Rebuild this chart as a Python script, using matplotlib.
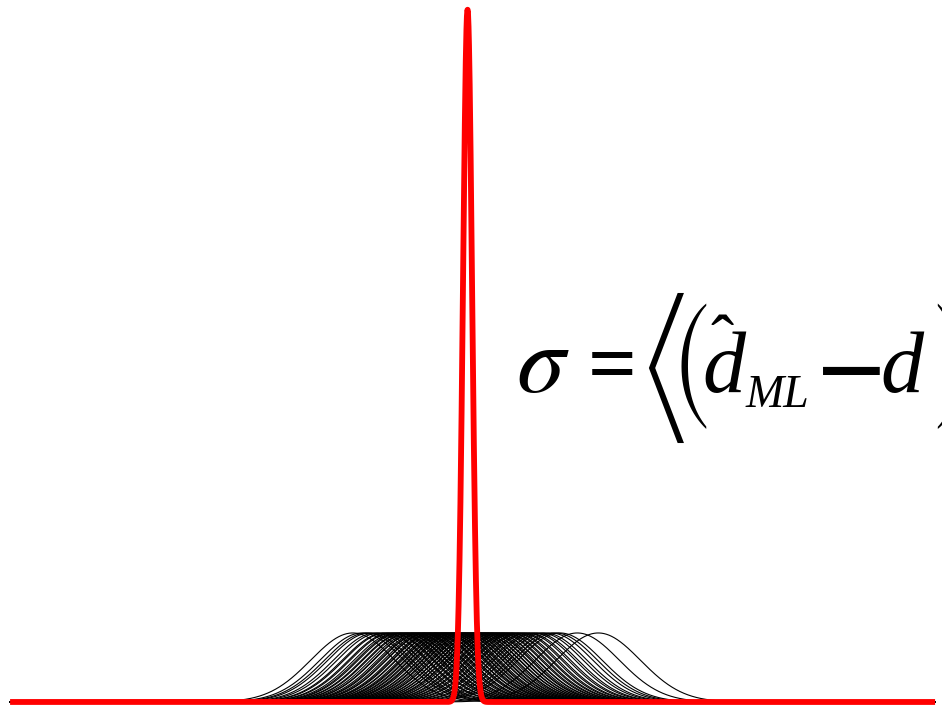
import numpy as np
import matplotlib
matplotlib.use("Agg")
import matplotlib.pyplot as plt

plt.rcParams["mathtext.fontset"] = "stix"

# Centres of the individual ML estimate curves (units of the curve width)
estimate_centres = [
    -2.85, -2.63, -2.52, -2.44, -2.31, -2.22, -2.10, -2.06, -1.95, -1.91,
    -1.82, -1.76, -1.72, -1.64, -1.61, -1.53, -1.50, -1.43, -1.37, -1.35,
    -1.27, -1.22, -1.19, -1.12, -1.07, -1.05, -0.97, -0.93, -0.90, -0.83,
    -0.81, -0.74, -0.70, -0.67, -0.61, -0.58, -0.52, -0.49, -0.43, -0.40,
    -0.36, -0.29, -0.27, -0.21, -0.18, -0.12, -0.09, -0.03, 0.02, 0.04,
    0.11, 0.13, 0.20, 0.22, 0.29, 0.31, 0.38, 0.41, 0.46, 0.53, 0.55,
    0.63, 0.67, 0.74, 0.78, 0.86, 0.90, 0.98, 1.03, 1.12, 1.17, 1.27,
    1.33, 1.44, 1.51, 1.63, 1.72, 1.86, 1.97, 2.08, 2.49, 2.99,
]
estimate_width = 1.0
estimate_height = 1.0

# Narrow distribution of the estimator
true_centre = -0.12
true_width = 0.107
true_height = 10.03

x_range = (-11.0, 11.0)

W, H = 942, 718

x = np.linspace(x_range[0], x_range[1], 4000)

fig = plt.figure(figsize=(W / 100, H / 100), dpi=100)
ax = fig.add_axes([0, 0, 1, 1])

for c in estimate_centres:
    y = estimate_height * np.exp(-0.5 * ((x - c) / estimate_width) ** 2)
    ax.plot(x, y, color="black", lw=0.8, zorder=2)

y_true = true_height * np.exp(-0.5 * ((x - true_centre) / true_width) ** 2)
ax.plot(x, y_true, color="#ff0000", lw=4.2, zorder=3,
        solid_capstyle="butt", solid_joinstyle="round")

ax.set_xlim(-11.24, 11.165)
ax.set_ylim(-0.232, 10.17)
ax.axis("off")


def put(px, py, s, **kw):
    """Place text at a pixel position measured from the top-left corner."""
    kw.setdefault("ha", "left")
    kw.setdefault("va", "baseline")
    return fig.text(px / W, 1 - py / H, s, color="black", **kw)


serif = "Liberation Serif"
put(516, 392, r"$\sigma$", fontsize=70)
put(588, 392, "=", fontsize=62, family=serif, fontweight="bold")
put(665, 368, "\u27e8", fontsize=44, family="STIXSizeThreeSym", ha="center", va="center")
put(692, 366, "(", fontsize=49, family="STIXSizeTwoSym", ha="center", va="center")
put(702, 392, "d", fontsize=62, family=serif, style="italic")
put(722, 346, "\u02c6", fontsize=50, family=serif, ha="center", va="center")
put(746, 407, "ML", fontsize=33, family=serif, style="italic")
put(816, 392, r"$\mathbf{-}$", fontsize=66)
put(880, 392, "d", fontsize=62, family=serif, style="italic")
put(929, 366, ")", fontsize=49, family="STIXSizeTwoSym", ha="left", va="center")

fig.savefig("out.png", dpi=100, facecolor="white")
